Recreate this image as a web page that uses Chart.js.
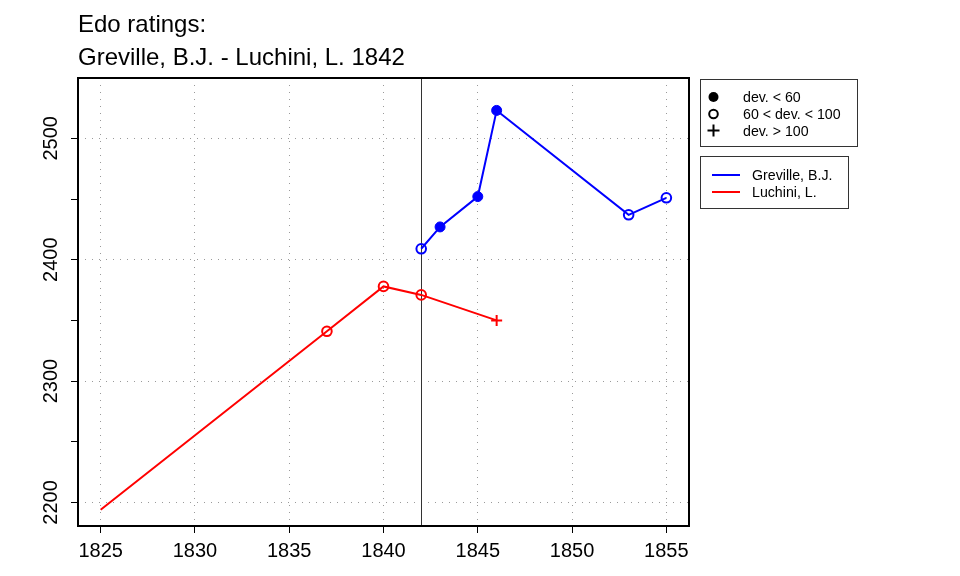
<!DOCTYPE html>
<html lang="en">
<head>
<meta charset="utf-8" />
<script src="https://cdn.jsdelivr.net/npm/chart.js@4.4.1/dist/chart.umd.min.js"></script>
<title>Edo ratings</title>
<style>
  body { margin: 0; background: #fff; }
  canvas { display: block; }
</style>
</head>
<body>
<canvas id="edo" width="960" height="576"></canvas>
<script>
// values
const grevilleYears = [1842, 1843, 1845, 1846, 1853, 1855];
const grevilleRatings = [2409, 2427, 2452, 2523, 2437, 2451];
const grevilleDev = ['mid', 'low', 'low', 'low', 'mid', 'mid'];
const luchiniYears = [1825, 1837, 1840, 1842, 1846];
const luchiniRatings = [2194, 2341, 2378, 2371, 2350];
const luchiniDev = [null, 'mid', 'mid', 'mid', 'high'];

const xTicks = [1825, 1830, 1835, 1840, 1845, 1850, 1855];
const yTicks = [2200, 2250, 2300, 2350, 2400, 2450, 2500];
const yLabels = [2200, 2300, 2400, 2500];
const matchYear = 1842;

const titleLines = ['Edo ratings:', 'Greville, B.J. - Luchini, L. 1842'];
const devLabels = ['dev. < 60', '60 < dev. < 100', 'dev. > 100'];
const playerNames = ['Greville, B.J.', 'Luchini, L.'];
const playerColors = ['#0000ff', '#ff0000'];

const FONT = '"Liberation Sans", Arial, Helvetica, sans-serif';
const GRID = '#9a9a9a';

function serie(years, ratings, dev, color, name) {
  return {
    label: name,
    data: years.map((y, i) => ({ x: y, y: ratings[i] })),
    borderColor: color,
    borderWidth: 2,
    tension: 0,
    pointStyle: c => dev[c.dataIndex] === 'high' ? 'cross' : 'circle',
    pointRadius: c => {
      const d = dev[c.dataIndex];
      if (d === null) return 0;
      return d === 'low' ? 5 : d === 'mid' ? 4.8 : 5.5;
    },
    pointHoverRadius: c => dev[c.dataIndex] === null ? 0 : 5,
    pointBackgroundColor: c => dev[c.dataIndex] === 'low' ? color : 'rgba(0,0,0,0)',
    pointBorderColor: color,
    pointBorderWidth: c => dev[c.dataIndex] === 'low' ? 1 : 2
  };
}

// title, frame, rotated y labels, match line and the two legend boxes
const decor = {
  id: 'decor',
  beforeDatasetsDraw(chart) {
    const { ctx, chartArea: a, scales } = chart;
    const x = Math.round(scales.x.getPixelForValue(matchYear)) + 0.5;
    ctx.save();
    ctx.strokeStyle = '#333';
    ctx.lineWidth = 1;
    ctx.beginPath();
    ctx.moveTo(x, a.top);
    ctx.lineTo(x, a.bottom);
    ctx.stroke();
    ctx.restore();
  },
  afterDraw(chart) {
    const { ctx, chartArea: a, scales } = chart;
    ctx.save();
    // frame
    ctx.strokeStyle = '#000';
    ctx.lineWidth = 2;
    ctx.strokeRect(a.left, a.top, a.right - a.left, a.bottom - a.top);

    // y labels, rotated
    ctx.fillStyle = '#000';
    ctx.font = '20px ' + FONT;
    ctx.textAlign = 'center';
    ctx.textBaseline = 'alphabetic';
    yLabels.forEach(v => {
      ctx.save();
      ctx.translate(57, scales.y.getPixelForValue(v));
      ctx.rotate(-Math.PI / 2);
      ctx.fillText(String(v), 0, 0);
      ctx.restore();
    });

    // title
    ctx.textAlign = 'left';
    ctx.font = '24px ' + FONT;
    ctx.fillText(titleLines[0], 78, 32);
    ctx.fillText(titleLines[1], 78, 65);

    // legend 1: deviation symbols
    ctx.lineWidth = 1;
    ctx.strokeStyle = '#333';
    ctx.strokeRect(700.5, 79.5, 157, 67);
    ctx.font = '14.2px ' + FONT;
    const rows = [97, 114, 130.5];
    devLabels.forEach((t, i) => ctx.fillText(t, 743, rows[i] + 5));
    ctx.strokeStyle = '#000';
    ctx.beginPath();
    ctx.arc(713.5, rows[0], 5, 0, Math.PI * 2);
    ctx.fill();
    ctx.lineWidth = 2;
    ctx.beginPath();
    ctx.arc(713.5, rows[1], 4.3, 0, Math.PI * 2);
    ctx.stroke();
    ctx.beginPath();
    ctx.moveTo(707.5, rows[2]); ctx.lineTo(719.5, rows[2]);
    ctx.moveTo(713.5, rows[2] - 6); ctx.lineTo(713.5, rows[2] + 6);
    ctx.stroke();

    // legend 2: players
    ctx.lineWidth = 1;
    ctx.strokeStyle = '#333';
    ctx.strokeRect(700.5, 156.5, 148, 52);
    const prow = [175, 192];
    playerNames.forEach((t, i) => {
      ctx.fillStyle = '#000';
      ctx.fillText(t, 752, prow[i] + 5);
      ctx.strokeStyle = playerColors[i];
      ctx.lineWidth = 2;
      ctx.beginPath();
      ctx.moveTo(712, prow[i]);
      ctx.lineTo(740, prow[i]);
      ctx.stroke();
    });
    ctx.restore();
  }
};

new Chart(document.getElementById('edo').getContext('2d'), {
  type: 'line',
  data: {
    datasets: [
      serie(grevilleYears, grevilleRatings, grevilleDev, playerColors[0], playerNames[0]),
      serie(luchiniYears, luchiniRatings, luchiniDev, playerColors[1], playerNames[1])
    ]
  },
  options: {
    responsive: false,
    devicePixelRatio: 1,
    animation: false,
    layout: { padding: { left: 0, top: 78, right: 271, bottom: 0 } },
    plugins: {
      legend: { display: false },
      title: { display: false },
      tooltip: { enabled: false }
    },
    scales: {
      x: {
        type: 'linear',
        min: 1823.8,
        max: 1856.2,
        afterBuildTicks: s => { s.ticks = xTicks.map(v => ({ value: v })); },
        afterFit: s => { s.height = 50; },
        grid: { color: GRID, lineWidth: 1, tickLength: 7, tickColor: '#000', tickWidth: 1, tickBorderDash: [] },
        border: { display: false, dash: [1, 6] },
        ticks: {
          color: '#000',
          font: { family: FONT, size: 20 },
          padding: 6,
          maxRotation: 0,
          autoSkip: false,
          callback: v => String(v)
        }
      },
      y: {
        type: 'linear',
        min: 2180.6,
        max: 2549.7,
        afterBuildTicks: s => { s.ticks = yTicks.map(v => ({ value: v })); },
        afterFit: s => { s.width = 78; },
        grid: {
          color: c => yLabels.includes(c.tick && c.tick.value) ? GRID : 'rgba(0,0,0,0)',
          lineWidth: 1, tickLength: 7, tickColor: '#000', tickWidth: 1, tickBorderDash: []
        },
        border: { display: false, dash: [1, 6] },
        ticks: { display: false }
      }
    }
  },
  plugins: [decor]
});
</script>
</body>
</html>
